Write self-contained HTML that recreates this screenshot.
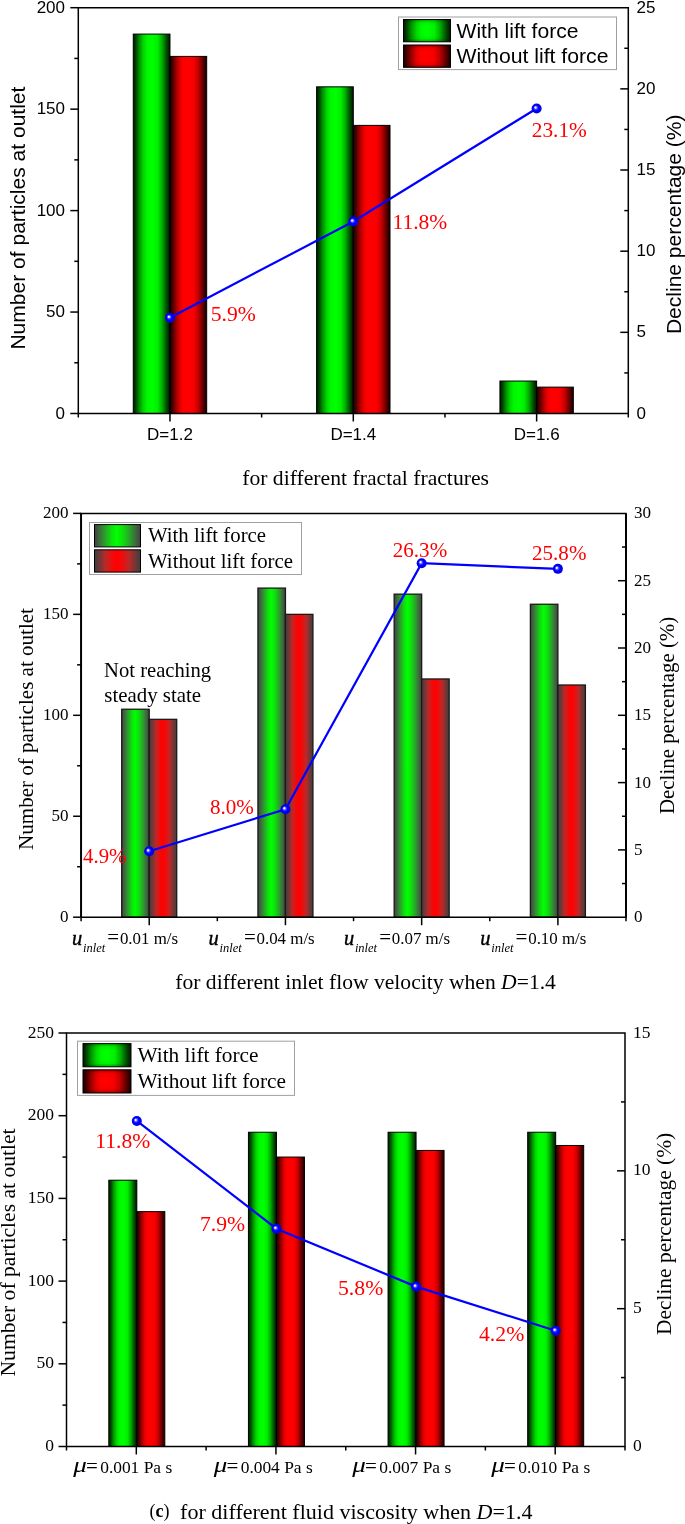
<!DOCTYPE html>
<html><head><meta charset="utf-8"><title>Lift force charts</title>
<style>html,body{margin:0;padding:0;background:#fff;width:685px;height:1524px;overflow:hidden;font-family:"Liberation Sans",sans-serif} svg{display:block;will-change:transform}</style>
</head><body>
<svg width="685" height="1524" viewBox="0 0 685 1524">
<defs>
 <linearGradient id="g1" x1="0" y1="0" x2="1" y2="0">
  <stop offset="0" stop-color="#001800"/>
  <stop offset="0.07" stop-color="#004400"/>
  <stop offset="0.17" stop-color="#009400"/>
  <stop offset="0.28" stop-color="#00d800"/>
  <stop offset="0.38" stop-color="#00f800"/>
  <stop offset="0.52" stop-color="#00ff00"/>
  <stop offset="0.66" stop-color="#00f000"/>
  <stop offset="0.78" stop-color="#00b000"/>
  <stop offset="0.9" stop-color="#005400"/>
  <stop offset="1" stop-color="#001400"/>
 </linearGradient>
 <linearGradient id="r1" x1="0" y1="0" x2="1" y2="0">
  <stop offset="0" stop-color="#180000"/>
  <stop offset="0.07" stop-color="#460000"/>
  <stop offset="0.16" stop-color="#940000"/>
  <stop offset="0.27" stop-color="#e00000"/>
  <stop offset="0.36" stop-color="#fc0000"/>
  <stop offset="0.5" stop-color="#ff0000"/>
  <stop offset="0.64" stop-color="#f80000"/>
  <stop offset="0.76" stop-color="#c80000"/>
  <stop offset="0.88" stop-color="#700000"/>
  <stop offset="1" stop-color="#140000"/>
 </linearGradient>
 <linearGradient id="g2" x1="0" y1="0" x2="1" y2="0">
  <stop offset="0" stop-color="#404040"/>
  <stop offset="0.1" stop-color="#3e683e"/>
  <stop offset="0.25" stop-color="#26aa26"/>
  <stop offset="0.38" stop-color="#0ce40c"/>
  <stop offset="0.48" stop-color="#00ff00"/>
  <stop offset="0.6" stop-color="#0ce40c"/>
  <stop offset="0.75" stop-color="#26aa26"/>
  <stop offset="0.9" stop-color="#3e683e"/>
  <stop offset="1" stop-color="#404040"/>
 </linearGradient>
 <linearGradient id="r2" x1="0" y1="0" x2="1" y2="0">
  <stop offset="0" stop-color="#443c3c"/>
  <stop offset="0.1" stop-color="#6a3838"/>
  <stop offset="0.25" stop-color="#bc2828"/>
  <stop offset="0.38" stop-color="#ee0c0c"/>
  <stop offset="0.48" stop-color="#ff0000"/>
  <stop offset="0.6" stop-color="#ee0c0c"/>
  <stop offset="0.75" stop-color="#bc2828"/>
  <stop offset="0.9" stop-color="#6a3838"/>
  <stop offset="1" stop-color="#443c3c"/>
 </linearGradient>
 <linearGradient id="vsh" x1="0" y1="0" x2="0" y2="1">
  <stop offset="0" stop-color="#000" stop-opacity="0.35"/>
  <stop offset="0.14" stop-color="#000" stop-opacity="0.05"/>
  <stop offset="0.3" stop-color="#000" stop-opacity="0"/>
  <stop offset="0.7" stop-color="#000" stop-opacity="0"/>
  <stop offset="0.86" stop-color="#000" stop-opacity="0.05"/>
  <stop offset="1" stop-color="#000" stop-opacity="0.35"/>
 </linearGradient>
 <radialGradient id="ball" cx="0.5" cy="0.5" r="0.5" fx="0.36" fy="0.38">
  <stop offset="0" stop-color="#ffffff"/>
  <stop offset="0.14" stop-color="#e8e8ff"/>
  <stop offset="0.32" stop-color="#5050ff"/>
  <stop offset="0.55" stop-color="#0000ff"/>
  <stop offset="1" stop-color="#0000e0"/>
 </radialGradient>
</defs>
<rect x="133.27" y="34.08" width="36.70" height="379.42" fill="url(#g1)" stroke="#000" stroke-width="1"/>
<rect x="169.97" y="56.40" width="36.70" height="357.10" fill="url(#r1)" stroke="#000" stroke-width="1"/>
<rect x="316.60" y="86.83" width="36.70" height="326.67" fill="url(#g1)" stroke="#000" stroke-width="1"/>
<rect x="353.30" y="125.38" width="36.70" height="288.12" fill="url(#r1)" stroke="#000" stroke-width="1"/>
<rect x="499.93" y="381.04" width="36.70" height="32.46" fill="url(#g1)" stroke="#000" stroke-width="1"/>
<rect x="536.63" y="387.12" width="36.70" height="26.38" fill="url(#r1)" stroke="#000" stroke-width="1"/>
<path d="M78.3 413.5 V7.7 H628.3 V413.5 H78.3" fill="none" stroke="#000" stroke-width="1.5" stroke-linejoin="miter"/>
<line x1="70.3" y1="413.50" x2="78.3" y2="413.50" stroke="#000" stroke-width="1.5"/>
<line x1="74.3" y1="362.77" x2="78.3" y2="362.77" stroke="#000" stroke-width="1.5"/>
<line x1="70.3" y1="312.05" x2="78.3" y2="312.05" stroke="#000" stroke-width="1.5"/>
<line x1="74.3" y1="261.32" x2="78.3" y2="261.32" stroke="#000" stroke-width="1.5"/>
<line x1="70.3" y1="210.60" x2="78.3" y2="210.60" stroke="#000" stroke-width="1.5"/>
<line x1="74.3" y1="159.88" x2="78.3" y2="159.88" stroke="#000" stroke-width="1.5"/>
<line x1="70.3" y1="109.15" x2="78.3" y2="109.15" stroke="#000" stroke-width="1.5"/>
<line x1="74.3" y1="58.43" x2="78.3" y2="58.43" stroke="#000" stroke-width="1.5"/>
<line x1="70.3" y1="7.70" x2="78.3" y2="7.70" stroke="#000" stroke-width="1.5"/>
<line x1="624.3" y1="372.92" x2="628.3" y2="372.92" stroke="#000" stroke-width="1.5"/>
<line x1="620.3" y1="332.34" x2="628.3" y2="332.34" stroke="#000" stroke-width="1.5"/>
<line x1="624.3" y1="291.76" x2="628.3" y2="291.76" stroke="#000" stroke-width="1.5"/>
<line x1="620.3" y1="251.18" x2="628.3" y2="251.18" stroke="#000" stroke-width="1.5"/>
<line x1="624.3" y1="210.60" x2="628.3" y2="210.60" stroke="#000" stroke-width="1.5"/>
<line x1="620.3" y1="170.02" x2="628.3" y2="170.02" stroke="#000" stroke-width="1.5"/>
<line x1="624.3" y1="129.44" x2="628.3" y2="129.44" stroke="#000" stroke-width="1.5"/>
<line x1="620.3" y1="88.86" x2="628.3" y2="88.86" stroke="#000" stroke-width="1.5"/>
<line x1="624.3" y1="48.28" x2="628.3" y2="48.28" stroke="#000" stroke-width="1.5"/>
<line x1="78.30" y1="413.5" x2="78.30" y2="417.5" stroke="#000" stroke-width="1.5"/>
<line x1="261.63" y1="413.5" x2="261.63" y2="417.5" stroke="#000" stroke-width="1.5"/>
<line x1="444.97" y1="413.5" x2="444.97" y2="417.5" stroke="#000" stroke-width="1.5"/>
<line x1="628.30" y1="413.5" x2="628.30" y2="417.5" stroke="#000" stroke-width="1.5"/>
<line x1="169.97" y1="413.5" x2="169.97" y2="421.5" stroke="#000" stroke-width="1.5"/>
<line x1="353.30" y1="413.5" x2="353.30" y2="421.5" stroke="#000" stroke-width="1.5"/>
<line x1="536.63" y1="413.5" x2="536.63" y2="421.5" stroke="#000" stroke-width="1.5"/>
<polyline points="169.97,317.73 353.30,221.48 536.63,108.50" fill="none" stroke="#0000ff" stroke-width="2.2"/>
<circle cx="169.97" cy="317.73" r="5" fill="url(#ball)"/>
<circle cx="353.30" cy="221.48" r="5" fill="url(#ball)"/>
<circle cx="536.63" cy="108.50" r="5" fill="url(#ball)"/>
<text x="65" y="418.60" font-family='"Liberation Sans", sans-serif' font-size="17" fill="#000" text-anchor="end">0</text>
<text x="65" y="317.15" font-family='"Liberation Sans", sans-serif' font-size="17" fill="#000" text-anchor="end">50</text>
<text x="65" y="215.70" font-family='"Liberation Sans", sans-serif' font-size="17" fill="#000" text-anchor="end">100</text>
<text x="65" y="114.25" font-family='"Liberation Sans", sans-serif' font-size="17" fill="#000" text-anchor="end">150</text>
<text x="65" y="12.80" font-family='"Liberation Sans", sans-serif' font-size="17" fill="#000" text-anchor="end">200</text>
<text x="636.5" y="418.60" font-family='"Liberation Sans", sans-serif' font-size="17" fill="#000">0</text>
<text x="636.5" y="337.44" font-family='"Liberation Sans", sans-serif' font-size="17" fill="#000">5</text>
<text x="636.5" y="256.28" font-family='"Liberation Sans", sans-serif' font-size="17" fill="#000">10</text>
<text x="636.5" y="175.12" font-family='"Liberation Sans", sans-serif' font-size="17" fill="#000">15</text>
<text x="636.5" y="93.96" font-family='"Liberation Sans", sans-serif' font-size="17" fill="#000">20</text>
<text x="636.5" y="12.80" font-family='"Liberation Sans", sans-serif' font-size="17" fill="#000">25</text>
<rect x="121.71" y="709.24" width="27.50" height="207.96" fill="url(#g2)" stroke="#1a1a1a" stroke-width="1.3"/>
<rect x="149.21" y="719.34" width="27.50" height="197.86" fill="url(#r2)" stroke="#1a1a1a" stroke-width="1.3"/>
<rect x="257.94" y="588.10" width="27.50" height="329.10" fill="url(#g2)" stroke="#1a1a1a" stroke-width="1.3"/>
<rect x="285.44" y="614.35" width="27.50" height="302.85" fill="url(#r2)" stroke="#1a1a1a" stroke-width="1.3"/>
<rect x="394.16" y="594.16" width="27.50" height="323.04" fill="url(#g2)" stroke="#1a1a1a" stroke-width="1.3"/>
<rect x="421.66" y="678.96" width="27.50" height="238.24" fill="url(#r2)" stroke="#1a1a1a" stroke-width="1.3"/>
<rect x="530.39" y="604.25" width="27.50" height="312.95" fill="url(#g2)" stroke="#1a1a1a" stroke-width="1.3"/>
<rect x="557.89" y="685.01" width="27.50" height="232.19" fill="url(#r2)" stroke="#1a1a1a" stroke-width="1.3"/>
<path d="M81.1 917.2 V513.4 H626 V917.2 H81.1" fill="none" stroke="#000" stroke-width="1.5" stroke-linejoin="miter"/>
<path d="M81.1 917.2 V513.4 M626 513.4 V917.2" fill="none" stroke="#000" stroke-width="1.9"/>
<line x1="73.1" y1="917.20" x2="81.1" y2="917.20" stroke="#000" stroke-width="1.5"/>
<line x1="77.1" y1="866.73" x2="81.1" y2="866.73" stroke="#000" stroke-width="1.5"/>
<line x1="73.1" y1="816.25" x2="81.1" y2="816.25" stroke="#000" stroke-width="1.5"/>
<line x1="77.1" y1="765.78" x2="81.1" y2="765.78" stroke="#000" stroke-width="1.5"/>
<line x1="73.1" y1="715.30" x2="81.1" y2="715.30" stroke="#000" stroke-width="1.5"/>
<line x1="77.1" y1="664.83" x2="81.1" y2="664.83" stroke="#000" stroke-width="1.5"/>
<line x1="73.1" y1="614.35" x2="81.1" y2="614.35" stroke="#000" stroke-width="1.5"/>
<line x1="77.1" y1="563.88" x2="81.1" y2="563.88" stroke="#000" stroke-width="1.5"/>
<line x1="73.1" y1="513.40" x2="81.1" y2="513.40" stroke="#000" stroke-width="1.5"/>
<line x1="622" y1="883.55" x2="626" y2="883.55" stroke="#000" stroke-width="1.5"/>
<line x1="618" y1="849.90" x2="626" y2="849.90" stroke="#000" stroke-width="1.5"/>
<line x1="622" y1="816.25" x2="626" y2="816.25" stroke="#000" stroke-width="1.5"/>
<line x1="618" y1="782.60" x2="626" y2="782.60" stroke="#000" stroke-width="1.5"/>
<line x1="622" y1="748.95" x2="626" y2="748.95" stroke="#000" stroke-width="1.5"/>
<line x1="618" y1="715.30" x2="626" y2="715.30" stroke="#000" stroke-width="1.5"/>
<line x1="622" y1="681.65" x2="626" y2="681.65" stroke="#000" stroke-width="1.5"/>
<line x1="618" y1="648.00" x2="626" y2="648.00" stroke="#000" stroke-width="1.5"/>
<line x1="622" y1="614.35" x2="626" y2="614.35" stroke="#000" stroke-width="1.5"/>
<line x1="618" y1="580.70" x2="626" y2="580.70" stroke="#000" stroke-width="1.5"/>
<line x1="622" y1="547.05" x2="626" y2="547.05" stroke="#000" stroke-width="1.5"/>
<line x1="81.10" y1="917.2" x2="81.10" y2="921.2" stroke="#000" stroke-width="1.5"/>
<line x1="217.32" y1="917.2" x2="217.32" y2="921.2" stroke="#000" stroke-width="1.5"/>
<line x1="353.55" y1="917.2" x2="353.55" y2="921.2" stroke="#000" stroke-width="1.5"/>
<line x1="489.77" y1="917.2" x2="489.77" y2="921.2" stroke="#000" stroke-width="1.5"/>
<line x1="626.00" y1="917.2" x2="626.00" y2="921.2" stroke="#000" stroke-width="1.5"/>
<line x1="149.21" y1="917.2" x2="149.21" y2="925.2" stroke="#000" stroke-width="1.5"/>
<line x1="285.44" y1="917.2" x2="285.44" y2="925.2" stroke="#000" stroke-width="1.5"/>
<line x1="421.66" y1="917.2" x2="421.66" y2="925.2" stroke="#000" stroke-width="1.5"/>
<line x1="557.89" y1="917.2" x2="557.89" y2="925.2" stroke="#000" stroke-width="1.5"/>
<polyline points="149.21,851.25 285.44,809.25 421.66,563.20 557.89,568.86" fill="none" stroke="#0000ff" stroke-width="2.2"/>
<circle cx="149.21" cy="851.25" r="5" fill="url(#ball)"/>
<circle cx="285.44" cy="809.25" r="5" fill="url(#ball)"/>
<circle cx="421.66" cy="563.20" r="5" fill="url(#ball)"/>
<circle cx="557.89" cy="568.86" r="5" fill="url(#ball)"/>
<text x="68.5" y="922.20" font-family='"Liberation Serif", serif' font-size="17" fill="#000" text-anchor="end">0</text>
<text x="68.5" y="821.25" font-family='"Liberation Serif", serif' font-size="17" fill="#000" text-anchor="end">50</text>
<text x="68.5" y="720.30" font-family='"Liberation Serif", serif' font-size="17" fill="#000" text-anchor="end">100</text>
<text x="68.5" y="619.35" font-family='"Liberation Serif", serif' font-size="17" fill="#000" text-anchor="end">150</text>
<text x="68.5" y="518.40" font-family='"Liberation Serif", serif' font-size="17" fill="#000" text-anchor="end">200</text>
<text x="634" y="922.20" font-family='"Liberation Serif", serif' font-size="17" fill="#000">0</text>
<text x="634" y="854.90" font-family='"Liberation Serif", serif' font-size="17" fill="#000">5</text>
<text x="634" y="787.60" font-family='"Liberation Serif", serif' font-size="17" fill="#000">10</text>
<text x="634" y="720.30" font-family='"Liberation Serif", serif' font-size="17" fill="#000">15</text>
<text x="634" y="653.00" font-family='"Liberation Serif", serif' font-size="17" fill="#000">20</text>
<text x="634" y="585.70" font-family='"Liberation Serif", serif' font-size="17" fill="#000">25</text>
<text x="634" y="518.40" font-family='"Liberation Serif", serif' font-size="17" fill="#000">30</text>
<rect x="108.81" y="1180.21" width="28.00" height="266.29" fill="url(#g1)" stroke="#000" stroke-width="1"/>
<rect x="136.81" y="1211.63" width="28.00" height="234.87" fill="url(#r1)" stroke="#000" stroke-width="1"/>
<rect x="248.44" y="1132.24" width="28.00" height="314.26" fill="url(#g1)" stroke="#000" stroke-width="1"/>
<rect x="276.44" y="1157.05" width="28.00" height="289.45" fill="url(#r1)" stroke="#000" stroke-width="1"/>
<rect x="388.06" y="1132.24" width="28.00" height="314.26" fill="url(#g1)" stroke="#000" stroke-width="1"/>
<rect x="416.06" y="1150.43" width="28.00" height="296.07" fill="url(#r1)" stroke="#000" stroke-width="1"/>
<rect x="527.69" y="1132.24" width="28.00" height="314.26" fill="url(#g1)" stroke="#000" stroke-width="1"/>
<rect x="555.69" y="1145.47" width="28.00" height="301.03" fill="url(#r1)" stroke="#000" stroke-width="1"/>
<path d="M66.5 1446.5 V1033 H625 V1446.5 H66.5" fill="none" stroke="#000" stroke-width="1.5" stroke-linejoin="miter"/>
<line x1="58.5" y1="1446.50" x2="66.5" y2="1446.50" stroke="#000" stroke-width="1.5"/>
<line x1="62.5" y1="1405.15" x2="66.5" y2="1405.15" stroke="#000" stroke-width="1.5"/>
<line x1="58.5" y1="1363.80" x2="66.5" y2="1363.80" stroke="#000" stroke-width="1.5"/>
<line x1="62.5" y1="1322.45" x2="66.5" y2="1322.45" stroke="#000" stroke-width="1.5"/>
<line x1="58.5" y1="1281.10" x2="66.5" y2="1281.10" stroke="#000" stroke-width="1.5"/>
<line x1="62.5" y1="1239.75" x2="66.5" y2="1239.75" stroke="#000" stroke-width="1.5"/>
<line x1="58.5" y1="1198.40" x2="66.5" y2="1198.40" stroke="#000" stroke-width="1.5"/>
<line x1="62.5" y1="1157.05" x2="66.5" y2="1157.05" stroke="#000" stroke-width="1.5"/>
<line x1="58.5" y1="1115.70" x2="66.5" y2="1115.70" stroke="#000" stroke-width="1.5"/>
<line x1="62.5" y1="1074.35" x2="66.5" y2="1074.35" stroke="#000" stroke-width="1.5"/>
<line x1="58.5" y1="1033.00" x2="66.5" y2="1033.00" stroke="#000" stroke-width="1.5"/>
<line x1="621" y1="1377.58" x2="625" y2="1377.58" stroke="#000" stroke-width="1.5"/>
<line x1="617" y1="1308.67" x2="625" y2="1308.67" stroke="#000" stroke-width="1.5"/>
<line x1="621" y1="1239.75" x2="625" y2="1239.75" stroke="#000" stroke-width="1.5"/>
<line x1="617" y1="1170.83" x2="625" y2="1170.83" stroke="#000" stroke-width="1.5"/>
<line x1="621" y1="1101.92" x2="625" y2="1101.92" stroke="#000" stroke-width="1.5"/>
<line x1="66.50" y1="1446.5" x2="66.50" y2="1450.5" stroke="#000" stroke-width="1.5"/>
<line x1="206.12" y1="1446.5" x2="206.12" y2="1450.5" stroke="#000" stroke-width="1.5"/>
<line x1="345.75" y1="1446.5" x2="345.75" y2="1450.5" stroke="#000" stroke-width="1.5"/>
<line x1="485.38" y1="1446.5" x2="485.38" y2="1450.5" stroke="#000" stroke-width="1.5"/>
<line x1="625.00" y1="1446.5" x2="625.00" y2="1450.5" stroke="#000" stroke-width="1.5"/>
<line x1="136.31" y1="1446.5" x2="136.31" y2="1454.5" stroke="#000" stroke-width="1.5"/>
<line x1="275.94" y1="1446.5" x2="275.94" y2="1454.5" stroke="#000" stroke-width="1.5"/>
<line x1="415.56" y1="1446.5" x2="415.56" y2="1454.5" stroke="#000" stroke-width="1.5"/>
<line x1="555.19" y1="1446.5" x2="555.19" y2="1454.5" stroke="#000" stroke-width="1.5"/>
<polyline points="136.81,1120.94 276.44,1228.72 416.06,1286.61 555.69,1330.72" fill="none" stroke="#0000ff" stroke-width="2.2"/>
<circle cx="136.81" cy="1120.94" r="5" fill="url(#ball)"/>
<circle cx="276.44" cy="1228.72" r="5" fill="url(#ball)"/>
<circle cx="416.06" cy="1286.61" r="5" fill="url(#ball)"/>
<circle cx="555.69" cy="1330.72" r="5" fill="url(#ball)"/>
<text x="54" y="1451.10" font-family='"Liberation Serif", serif' font-size="17.5" fill="#000" text-anchor="end">0</text>
<text x="54" y="1368.40" font-family='"Liberation Serif", serif' font-size="17.5" fill="#000" text-anchor="end">50</text>
<text x="54" y="1285.70" font-family='"Liberation Serif", serif' font-size="17.5" fill="#000" text-anchor="end">100</text>
<text x="54" y="1203.00" font-family='"Liberation Serif", serif' font-size="17.5" fill="#000" text-anchor="end">150</text>
<text x="54" y="1120.30" font-family='"Liberation Serif", serif' font-size="17.5" fill="#000" text-anchor="end">200</text>
<text x="54" y="1037.60" font-family='"Liberation Serif", serif' font-size="17.5" fill="#000" text-anchor="end">250</text>
<text x="633" y="1451.10" font-family='"Liberation Serif", serif' font-size="17.5" fill="#000">0</text>
<text x="633" y="1313.27" font-family='"Liberation Serif", serif' font-size="17.5" fill="#000">5</text>
<text x="633" y="1175.43" font-family='"Liberation Serif", serif' font-size="17.5" fill="#000">10</text>
<text x="633" y="1037.60" font-family='"Liberation Serif", serif' font-size="17.5" fill="#000">15</text>
<rect x="398.5" y="17" width="218" height="52.6" fill="#fff" stroke="#a0a0a0" stroke-width="1"/>
<rect x="403.5" y="19.5" width="47" height="22.3" fill="url(#g1)" stroke="#000" stroke-width="1"/>
<rect x="403.5" y="19.5" width="47" height="22.3" fill="url(#vsh)"/>
<rect x="403.5" y="45" width="47" height="22.3" fill="url(#r1)" stroke="#000" stroke-width="1"/>
<rect x="403.5" y="45" width="47" height="22.3" fill="url(#vsh)"/>
<text x="456.5" y="37.8" font-family='"Liberation Sans", sans-serif' font-size="21" fill="#000" textLength="122" lengthAdjust="spacingAndGlyphs">With lift force</text>
<text x="456.5" y="62.7" font-family='"Liberation Sans", sans-serif' font-size="21" fill="#000" textLength="152" lengthAdjust="spacingAndGlyphs">Without lift force</text>
<rect x="89.5" y="522.5" width="212" height="52" fill="#fff" stroke="#a0a0a0" stroke-width="1"/>
<rect x="94.5" y="524.6" width="46" height="22.3" fill="url(#g2)" stroke="#000" stroke-width="1"/>
<rect x="94.5" y="549.8" width="46" height="22.3" fill="url(#r2)" stroke="#000" stroke-width="1"/>
<text x="148" y="542.3" font-family='"Liberation Serif", serif' font-size="21" fill="#000" textLength="118" lengthAdjust="spacingAndGlyphs">With lift force</text>
<text x="148" y="568" font-family='"Liberation Serif", serif' font-size="21" fill="#000" textLength="145" lengthAdjust="spacingAndGlyphs">Without lift force</text>
<rect x="77.5" y="1041.2" width="217" height="54.2" fill="#fff" stroke="#a0a0a0" stroke-width="1"/>
<rect x="83" y="1043.6" width="48" height="23.2" fill="url(#g1)" stroke="#000" stroke-width="1"/>
<rect x="83" y="1043.6" width="48" height="23.2" fill="url(#vsh)"/>
<rect x="83" y="1069.8" width="48" height="23.2" fill="url(#r1)" stroke="#000" stroke-width="1"/>
<rect x="83" y="1069.8" width="48" height="23.2" fill="url(#vsh)"/>
<text x="137.5" y="1061.9" font-family='"Liberation Serif", serif' font-size="21" fill="#000" textLength="121" lengthAdjust="spacingAndGlyphs">With lift force</text>
<text x="137.5" y="1088" font-family='"Liberation Serif", serif' font-size="21" fill="#000" textLength="148.5" lengthAdjust="spacingAndGlyphs">Without lift force</text>
<text x="25.1" y="218.1" font-family='"Liberation Sans", sans-serif' font-size="21" fill="#000" text-anchor="middle" textLength="263" lengthAdjust="spacingAndGlyphs" transform="rotate(-90 25.1 218.1)">Number of particles at outlet</text>
<text x="681" y="224.3" font-family='"Liberation Sans", sans-serif' font-size="21" fill="#000" text-anchor="middle" textLength="219.5" lengthAdjust="spacingAndGlyphs" transform="rotate(-90 681 224.3)">Decline percentage (%)</text>
<text x="33.2" y="729" font-family='"Liberation Serif", serif' font-size="21" fill="#000" text-anchor="middle" textLength="241.8" lengthAdjust="spacingAndGlyphs" transform="rotate(-90 33.2 729)">Number of particles at outlet</text>
<text x="673.6" y="715.4" font-family='"Liberation Serif", serif' font-size="21" fill="#000" text-anchor="middle" textLength="197.3" lengthAdjust="spacingAndGlyphs" transform="rotate(-90 673.6 715.4)">Decline percentage (%)</text>
<text x="14.8" y="1252.5" font-family='"Liberation Serif", serif' font-size="21" fill="#000" text-anchor="middle" textLength="248" lengthAdjust="spacingAndGlyphs" transform="rotate(-90 14.8 1252.5)">Number of particles at outlet</text>
<text x="671.4" y="1233.9" font-family='"Liberation Serif", serif' font-size="21" fill="#000" text-anchor="middle" textLength="202.3" lengthAdjust="spacingAndGlyphs" transform="rotate(-90 671.4 1233.9)">Decline percentage (%)</text>
<text x="170" y="440.1" font-family='"Liberation Sans", sans-serif' font-size="17" fill="#000" text-anchor="middle">D=1.2</text>
<text x="353.3" y="440.1" font-family='"Liberation Sans", sans-serif' font-size="17" fill="#000" text-anchor="middle">D=1.4</text>
<text x="536.7" y="440.1" font-family='"Liberation Sans", sans-serif' font-size="17" fill="#000" text-anchor="middle">D=1.6</text>
<text x="72.0" y="944.5" font-family='"Liberation Serif", serif' font-style="italic" font-size="20.5" fill="#000" stroke="#000" stroke-width="0.4">u</text>
<text x="83.0" y="952.2" font-family='"Liberation Serif", serif' font-style="italic" font-size="12" fill="#000" textLength="22.2" lengthAdjust="spacingAndGlyphs">inlet</text>
<text x="107.3" y="944.2" font-family='"Liberation Serif", serif' font-size="21" fill="#000">=</text>
<text x="119.9" y="944" font-family='"Liberation Serif", serif' font-size="16" fill="#000" textLength="58.2" lengthAdjust="spacingAndGlyphs">0.01 m/s</text>
<text x="208.6" y="944.5" font-family='"Liberation Serif", serif' font-style="italic" font-size="20.5" fill="#000" stroke="#000" stroke-width="0.4">u</text>
<text x="219.6" y="952.2" font-family='"Liberation Serif", serif' font-style="italic" font-size="12" fill="#000" textLength="22.2" lengthAdjust="spacingAndGlyphs">inlet</text>
<text x="243.9" y="944.2" font-family='"Liberation Serif", serif' font-size="21" fill="#000">=</text>
<text x="256.5" y="944" font-family='"Liberation Serif", serif' font-size="16" fill="#000" textLength="58.2" lengthAdjust="spacingAndGlyphs">0.04 m/s</text>
<text x="343.9" y="944.5" font-family='"Liberation Serif", serif' font-style="italic" font-size="20.5" fill="#000" stroke="#000" stroke-width="0.4">u</text>
<text x="354.9" y="952.2" font-family='"Liberation Serif", serif' font-style="italic" font-size="12" fill="#000" textLength="22.2" lengthAdjust="spacingAndGlyphs">inlet</text>
<text x="379.2" y="944.2" font-family='"Liberation Serif", serif' font-size="21" fill="#000">=</text>
<text x="391.8" y="944" font-family='"Liberation Serif", serif' font-size="16" fill="#000" textLength="58.2" lengthAdjust="spacingAndGlyphs">0.07 m/s</text>
<text x="480.3" y="944.5" font-family='"Liberation Serif", serif' font-style="italic" font-size="20.5" fill="#000" stroke="#000" stroke-width="0.4">u</text>
<text x="491.3" y="952.2" font-family='"Liberation Serif", serif' font-style="italic" font-size="12" fill="#000" textLength="22.2" lengthAdjust="spacingAndGlyphs">inlet</text>
<text x="515.6" y="944.2" font-family='"Liberation Serif", serif' font-size="21" fill="#000">=</text>
<text x="528.2" y="944" font-family='"Liberation Serif", serif' font-size="16" fill="#000" textLength="58.2" lengthAdjust="spacingAndGlyphs">0.10 m/s</text>
<text x="73.2" y="1471.6" font-family='"Liberation Serif", serif' font-style="italic" font-size="21" fill="#000" textLength="13.6" lengthAdjust="spacingAndGlyphs">&#956;</text>
<text x="86.1" y="1473" font-family='"Liberation Serif", serif' font-size="21" fill="#000">=</text>
<text x="100.2" y="1473" font-family='"Liberation Serif", serif' font-size="17" fill="#000" textLength="72" lengthAdjust="spacingAndGlyphs">0.001 Pa s</text>
<text x="213.7" y="1471.6" font-family='"Liberation Serif", serif' font-style="italic" font-size="21" fill="#000" textLength="13.6" lengthAdjust="spacingAndGlyphs">&#956;</text>
<text x="226.6" y="1473" font-family='"Liberation Serif", serif' font-size="21" fill="#000">=</text>
<text x="240.7" y="1473" font-family='"Liberation Serif", serif' font-size="17" fill="#000" textLength="72" lengthAdjust="spacingAndGlyphs">0.004 Pa s</text>
<text x="352.2" y="1471.6" font-family='"Liberation Serif", serif' font-style="italic" font-size="21" fill="#000" textLength="13.6" lengthAdjust="spacingAndGlyphs">&#956;</text>
<text x="365.1" y="1473" font-family='"Liberation Serif", serif' font-size="21" fill="#000">=</text>
<text x="379.2" y="1473" font-family='"Liberation Serif", serif' font-size="17" fill="#000" textLength="72" lengthAdjust="spacingAndGlyphs">0.007 Pa s</text>
<text x="491.2" y="1471.6" font-family='"Liberation Serif", serif' font-style="italic" font-size="21" fill="#000" textLength="13.6" lengthAdjust="spacingAndGlyphs">&#956;</text>
<text x="504.1" y="1473" font-family='"Liberation Serif", serif' font-size="21" fill="#000">=</text>
<text x="518.2" y="1473" font-family='"Liberation Serif", serif' font-size="17" fill="#000" textLength="72" lengthAdjust="spacingAndGlyphs">0.010 Pa s</text>
<text x="210.8" y="320.8" font-family='"Liberation Serif", serif' font-size="22" fill="#ff0000" textLength="45.1" lengthAdjust="spacingAndGlyphs">5.9%</text>
<text x="392.5" y="228.6" font-family='"Liberation Serif", serif' font-size="22" fill="#ff0000" textLength="54.8" lengthAdjust="spacingAndGlyphs">11.8%</text>
<text x="531.8" y="136.7" font-family='"Liberation Serif", serif' font-size="22" fill="#ff0000" textLength="55" lengthAdjust="spacingAndGlyphs">23.1%</text>
<text x="83.1" y="862.5" font-family='"Liberation Serif", serif' font-size="22" fill="#ff0000" textLength="43.2" lengthAdjust="spacingAndGlyphs">4.9%</text>
<text x="210" y="813.8" font-family='"Liberation Serif", serif' font-size="22" fill="#ff0000" textLength="43.8" lengthAdjust="spacingAndGlyphs">8.0%</text>
<text x="392.8" y="557" font-family='"Liberation Serif", serif' font-size="22" fill="#ff0000" textLength="54.4" lengthAdjust="spacingAndGlyphs">26.3%</text>
<text x="532.1" y="560.1" font-family='"Liberation Serif", serif' font-size="22" fill="#ff0000" textLength="54.3" lengthAdjust="spacingAndGlyphs">25.8%</text>
<text x="95.3" y="1147.9" font-family='"Liberation Serif", serif' font-size="22" fill="#ff0000" textLength="55" lengthAdjust="spacingAndGlyphs">11.8%</text>
<text x="200" y="1231" font-family='"Liberation Serif", serif' font-size="22" fill="#ff0000" textLength="45.2" lengthAdjust="spacingAndGlyphs">7.9%</text>
<text x="338" y="1294.6" font-family='"Liberation Serif", serif' font-size="22" fill="#ff0000" textLength="45.3" lengthAdjust="spacingAndGlyphs">5.8%</text>
<text x="479" y="1340.7" font-family='"Liberation Serif", serif' font-size="22" fill="#ff0000" textLength="45.3" lengthAdjust="spacingAndGlyphs">4.2%</text>
<text x="104.1" y="677.4" font-family='"Liberation Serif", serif' font-size="21" fill="#000" textLength="107.1" lengthAdjust="spacingAndGlyphs">Not reaching</text>
<text x="104.3" y="702.1" font-family='"Liberation Serif", serif' font-size="21" fill="#000" textLength="96.8" lengthAdjust="spacingAndGlyphs">steady state</text>
<text x="242.2" y="485.4" font-family='"Liberation Serif", serif' font-size="22" fill="#000" textLength="246.8" lengthAdjust="spacingAndGlyphs">for different fractal fractures</text>
<text x="175.3" y="989.2" font-family='"Liberation Serif", serif' font-size="22" fill="#000" textLength="380.6" lengthAdjust="spacingAndGlyphs">for different inlet flow velocity when <tspan font-style="italic">D</tspan>=1.4</text>
<text x="149.6" y="1516.5" font-family='"Liberation Serif", serif' font-size="18" fill="#000">(<tspan font-weight="bold">c</tspan>)</text>
<text x="180.1" y="1518.8" font-family='"Liberation Serif", serif' font-size="22" fill="#000" textLength="352.4" lengthAdjust="spacingAndGlyphs">for different fluid viscosity when <tspan font-style="italic">D</tspan>=1.4</text></svg>
</body></html>
